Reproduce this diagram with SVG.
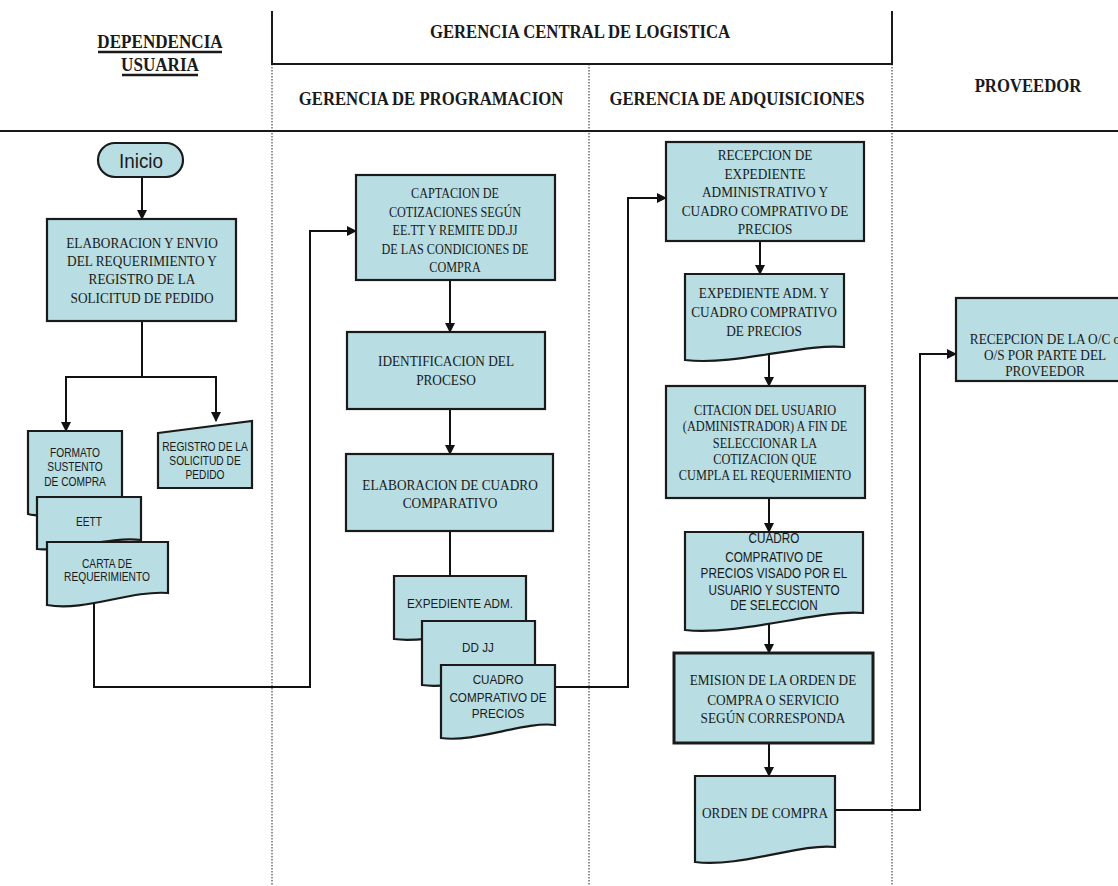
<svg xmlns="http://www.w3.org/2000/svg" width="1118" height="886" viewBox="0 0 1118 886">
<defs>
<marker id="ah" viewBox="0 0 10 10" refX="9" refY="5" markerWidth="5" markerHeight="5" orient="auto" markerUnits="strokeWidth">
<path d="M0,0 L10,5 L0,10 z" fill="#111"/>
</marker>
<style>
.bg{fill:#ffffff}
.hd{font-family:"Liberation Serif","Times New Roman",serif;font-weight:bold;font-size:19px;text-anchor:middle;fill:#1a1a1a}
.sr{font-family:"Liberation Serif","Times New Roman",serif;font-size:15px;text-anchor:middle;fill:#1a1a1a}
.sn{font-family:"Liberation Sans",Arial,sans-serif;font-size:12px;text-anchor:middle;fill:#1a1a1a}
.box{fill:#b8dde2;stroke:#1a1a1a;stroke-width:2.2}
.thick{stroke-width:3}
.sol{stroke:#1a1a1a;stroke-width:2;fill:none}
.ul{stroke:#1a1a1a;stroke-width:2.4}
.dot{stroke:#777;stroke-width:1.6;stroke-dasharray:1.5,1.5;fill:none}
.con{stroke:#111;stroke-width:2;fill:none}
.arr{marker-end:url(#ah)}
</style>
</defs>
<rect class="bg" x="0" y="0" width="1118" height="886"/>

<g id="lanes">
<line class="dot" x1="272" y1="64" x2="272" y2="886"/>
<line class="dot" x1="589" y1="64" x2="589" y2="886"/>
<line class="dot" x1="892" y1="64" x2="892" y2="886"/>
<line class="sol" x1="272" y1="11" x2="272" y2="64"/>
<line class="sol" x1="892" y1="11" x2="892" y2="64"/>
<line class="sol" x1="271" y1="64" x2="893" y2="64"/>
<line class="sol" x1="0" y1="131" x2="1118" y2="131"/>
<g transform="translate(160,0) scale(0.9,1)">
<text class="hd" x="0" y="48">DEPENDENCIA</text>
<text class="hd" x="0" y="71">USUARIA</text>
</g>
<line class="ul" x1="98" y1="52" x2="222" y2="52"/>
<line class="ul" x1="122" y1="75" x2="198" y2="75"/>
<text class="hd" transform="translate(580,0) scale(0.88,1)" x="0" y="38">GERENCIA CENTRAL DE LOGISTICA</text>
<text class="hd" transform="translate(431,0) scale(0.88,1)" x="0" y="105">GERENCIA DE PROGRAMACION</text>
<text class="hd" transform="translate(737,0) scale(0.88,1)" x="0" y="105">GERENCIA DE ADQUISICIONES</text>
<text class="hd" transform="translate(1028,0) scale(0.88,1)" x="0" y="92">PROVEEDOR</text>
</g>

<g id="connectors">
<line class="con arr" x1="142" y1="177" x2="142" y2="219"/>
<polyline class="con" points="142,321 142,377"/>
<polyline class="con" points="66,377 216,377"/>
<line class="con arr" x1="66" y1="376" x2="66" y2="431"/>
<line class="con arr" x1="216" y1="376" x2="216" y2="421"/>
<polyline class="con arr" points="94,598 94,687 310,687 310,231 356,231"/>
<line class="con arr" x1="450" y1="280" x2="450" y2="332"/>
<line class="con arr" x1="450" y1="409" x2="450" y2="454"/>
<line class="con" x1="450" y1="531" x2="450" y2="576"/>
<polyline class="con arr" points="555,687 628,687 628,198 666,198"/>
<line class="con arr" x1="760" y1="241" x2="760" y2="274"/>
<line class="con arr" x1="769" y1="352" x2="769" y2="386"/>
<line class="con arr" x1="769" y1="498" x2="769" y2="532"/>
<line class="con arr" x1="769" y1="612" x2="769" y2="653"/>
<line class="con arr" x1="769" y1="743" x2="769" y2="776"/>
<polyline class="con arr" points="835,810 920,810 920,354 956,354"/>
</g>

<g id="inicio">
<rect class="box" x="98" y="143" width="85" height="34" rx="17"/>
<text transform="translate(141,0) scale(0.9,1)" x="0" y="168" style="font-family:'Liberation Sans',Arial,sans-serif;font-size:21px;text-anchor:middle;fill:#1a1a1a">Inicio</text>
</g>

<g id="elaboracion-envio">
<rect class="box" x="47" y="219" width="189" height="102"/>
<g transform="translate(142,0) scale(0.885,1)">
<text class="sr" x="0" y="248">ELABORACION Y ENVIO</text>
<text class="sr" x="0" y="266">DEL REQUERIMIENTO Y</text>
<text class="sr" x="0" y="284">REGISTRO DE LA</text>
<text class="sr" x="0" y="303">SOLICITUD DE PEDIDO</text>
</g>
</g>

<g id="formato">
<path class="box" d="M28,431 H122 V510 C100,506 50,520 28,514 Z"/>
<g transform="translate(75,0) scale(0.85,1)">
<text class="sn" x="0" y="457">FORMATO</text>
<text class="sn" x="0" y="471">SUSTENTO</text>
<text class="sn" x="0" y="486">DE COMPRA</text>
</g>
</g>

<g id="eett">
<path class="box" d="M37,497 H141 V540 C110,536 65,552 37,549 Z"/>
<text class="sn" transform="translate(89,0) scale(0.85,1)" x="0" y="526">EETT</text>
</g>

<g id="carta">
<path class="box" d="M47,542 H168 V593 C130,590 85,612 47,605 Z"/>
<g transform="translate(107,0) scale(0.85,1)">
<text class="sn" x="0" y="568">CARTA DE</text>
<text class="sn" x="0" y="581">REQUERIMIENTO</text>
</g>
</g>

<g id="registro">
<path class="box" d="M158,433 L252,421 V488 H158 Z"/>
<g transform="translate(205,0) scale(0.85,1)">
<text class="sn" x="0" y="451">REGISTRO DE LA</text>
<text class="sn" x="0" y="465">SOLICITUD DE</text>
<text class="sn" x="0" y="479">PEDIDO</text>
</g>
</g>

<g id="captacion">
<rect class="box" x="356" y="175" width="199" height="105"/>
<g transform="translate(455,0) scale(0.87,1)">
<text class="sr" x="0" y="198" style="font-size:14px">CAPTACION DE</text>
<text class="sr" x="0" y="217" style="font-size:14px">COTIZACIONES SEGÚN</text>
<text class="sr" x="0" y="235" style="font-size:14px">EE.TT Y REMITE DD.JJ</text>
<text class="sr" x="0" y="254" style="font-size:14px">DE LAS CONDICIONES DE</text>
<text class="sr" x="0" y="272" style="font-size:14px">COMPRA</text>
</g>
</g>

<g id="identificacion">
<rect class="box" x="347" y="332" width="198" height="77"/>
<g transform="translate(446,0) scale(0.885,1)">
<text class="sr" x="0" y="366">IDENTIFICACION  DEL</text>
<text class="sr" x="0" y="385">PROCESO</text>
</g>
</g>

<g id="elaboracion-cuadro">
<rect class="box" x="346" y="454" width="207" height="77"/>
<g transform="translate(450,0) scale(0.885,1)">
<text class="sr" x="0" y="490">ELABORACION DE CUADRO</text>
<text class="sr" x="0" y="508">COMPARATIVO</text>
</g>
</g>

<g id="expediente-adm">
<path class="box" d="M394,576 H526 V627 C495,624 430,644 394,639 Z"/>
<text class="sn" transform="translate(460,0) scale(0.9,1)" x="0" y="608" style="font-size:13px">EXPEDIENTE ADM.</text>
</g>

<g id="ddjj">
<path class="box" d="M422,621 H535 V673 C505,670 455,690 422,685 Z"/>
<text class="sn" transform="translate(478,0) scale(0.9,1)" x="0" y="652" style="font-size:13px">DD JJ</text>
</g>

<g id="cuadro-prog">
<path class="box" d="M441,665 H555 V725 C525,721 475,743 441,738 Z"/>
<g transform="translate(498,0) scale(0.9,1)">
<text class="sn" x="0" y="684" style="font-size:13px">CUADRO</text>
<text class="sn" x="0" y="702" style="font-size:13px">COMPRATIVO DE</text>
<text class="sn" x="0" y="718" style="font-size:13px">PRECIOS</text>
</g>
</g>

<g id="recepcion-exp">
<rect class="box" x="666" y="142" width="198" height="99"/>
<g transform="translate(765,0) scale(0.885,1)">
<text class="sr" x="0" y="160">RECEPCION DE</text>
<text class="sr" x="0" y="179">EXPEDIENTE</text>
<text class="sr" x="0" y="197">ADMINISTRATIVO Y</text>
<text class="sr" x="0" y="216">CUADRO COMPRATIVO DE</text>
<text class="sr" x="0" y="234">PRECIOS</text>
</g>
</g>

<g id="expediente-cuadro">
<path class="box" d="M685,274 H844 V347 C805,343 735,366 685,360 Z"/>
<g transform="translate(764,0) scale(0.885,1)">
<text class="sr" x="0" y="298">EXPEDIENTE ADM. Y</text>
<text class="sr" x="0" y="317">CUADRO COMPRATIVO</text>
<text class="sr" x="0" y="336">DE PRECIOS</text>
</g>
</g>

<g id="citacion">
<rect class="box" x="666" y="386" width="199" height="112"/>
<g transform="translate(765,0) scale(0.88,1)">
<text class="sr" x="0" y="415" style="font-size:14px">CITACION DEL USUARIO</text>
<text class="sr" x="0" y="431" style="font-size:14px">(ADMINISTRADOR) A FIN DE</text>
<text class="sr" x="0" y="448" style="font-size:14px">SELECCIONAR LA</text>
<text class="sr" x="0" y="464" style="font-size:14px">COTIZACION QUE</text>
<text class="sr" x="0" y="480" style="font-size:14px">CUMPLA EL REQUERIMIENTO</text>
</g>
</g>

<g id="cuadro-visado">
<path class="box" d="M685,532 H863 V613 C820,609 740,636 685,630 Z"/>
<g transform="translate(774,0) scale(0.84,1)">
<text class="sn" x="0" y="543" style="font-size:14px">CUADRO</text>
<text class="sn" x="0" y="562" style="font-size:14px">COMPRATIVO DE</text>
<text class="sn" x="0" y="578" style="font-size:14px">PRECIOS VISADO POR EL</text>
<text class="sn" x="0" y="595" style="font-size:14px">USUARIO Y SUSTENTO</text>
<text class="sn" x="0" y="610" style="font-size:14px">DE SELECCION</text>
</g>
</g>

<g id="emision">
<rect class="box thick" x="674" y="653" width="199" height="90"/>
<g transform="translate(773,0) scale(0.885,1)">
<text class="sr" x="0" y="685">EMISION DE LA ORDEN DE</text>
<text class="sr" x="0" y="705">COMPRA O SERVICIO</text>
<text class="sr" x="0" y="723">SEGÚN CORRESPONDA</text>
</g>
</g>

<g id="orden">
<path class="box" d="M695,776 H835 V847 C800,843 740,868 695,862 Z"/>
<text class="sr" transform="translate(765,0) scale(0.885,1)" x="0" y="818">ORDEN DE COMPRA</text>
</g>

<g id="recepcion-oc">
<rect class="box" x="956" y="298" width="180" height="83"/>
<g transform="translate(1045,0) scale(0.885,1)">
<text class="sr" x="0" y="344">RECEPCION DE LA O/C o</text>
<text class="sr" x="0" y="360">O/S POR PARTE DEL</text>
<text class="sr" x="0" y="376">PROVEEDOR</text>
</g>
</g>
</svg>
